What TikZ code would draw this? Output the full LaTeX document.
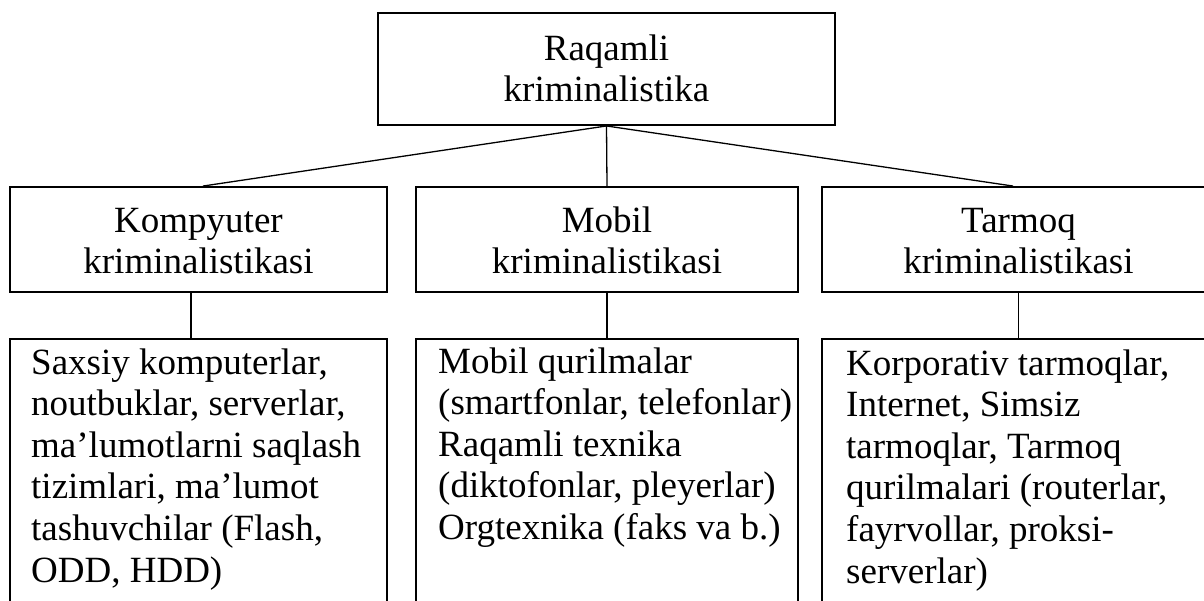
\documentclass[tikz,border=0pt]{standalone}
\usepackage{fontspec}
\setmainfont{Liberation Serif}
\begin{document}
\begin{tikzpicture}[x=1pt,y=-1pt,
  box/.style={draw=black, line width=1.9pt, fill=none, inner sep=0pt, rectangle},
  link/.style={draw=black, line width=1.3pt},
  lbl/.style={inner sep=0pt, font=\fontsize{37}{41.6}\selectfont}]
\useasboundingbox (0,0) rectangle (1204,600);
\clip (0,0) rectangle (1204,600);

% frames
\node[box, minimum width=457, minimum height=112] (top) at (606.5,69) {};
\node[box, minimum width=377, minimum height=105] (kb) at (198.5,239.5) {};
\node[box, minimum width=382, minimum height=105] (mb) at (607,239.5) {};
\node[box, minimum width=393, minimum height=105] (tb) at (1018.5,239.5) {};
\node[box, minimum width=377, minimum height=301] (kl) at (198.5,489.5) {};
\node[box, minimum width=382, minimum height=301] (ml) at (607,489.5) {};
\node[box, minimum width=393, minimum height=301] (tl) at (1018.5,489.5) {};

% titles
\node[lbl, anchor=base] (toptext) at (606.5,60)
  {\parbox[t]{440pt}{\centering Raqamli\\kriminalistika}};
\node[lbl, anchor=base] (kbtext) at (198.5,232)
  {\parbox[t]{370pt}{\centering Kompyuter\\kriminalistikasi}};
\node[lbl, anchor=base] (mbtext) at (607,232)
  {\parbox[t]{370pt}{\centering Mobil\\kriminalistikasi}};
\node[lbl, anchor=base] (tbtext) at (1018.5,232)
  {\parbox[t]{370pt}{\centering Tarmoq\\kriminalistikasi}};

% lists
\node[lbl, anchor=base west] (kltext) at (31,374)
  {\parbox[t]{360pt}{\raggedright Saxsiy komputerlar,\\noutbuklar, serverlar,\\ma’lumotlarni saqlash\\tizimlari, ma’lumot\\tashuvchilar (Flash,\\ODD, HDD)}};
\node[lbl, anchor=base west] (mltext) at (438,373)
  {\parbox[t]{370pt}{\raggedright Mobil qurilmalar\\(smartfonlar, telefonlar)\\Raqamli texnika\\(diktofonlar, pleyerlar)\\Orgtexnika (faks va b.)}};
\node[lbl, anchor=base west] (tltext) at (846,375)
  {\parbox[t]{360pt}{\raggedright Korporativ tarmoqlar,\\Internet, Simsiz\\tarmoqlar, Tarmoq\\qurilmalari (routerlar,\\fayrvollar, proksi-\\serverlar)}};

% connectors
\draw[link] (top.south) -- ([xshift=4.5pt]kb.north);
\draw[link] (top.south) -- (mb.north);
\draw[link] (top.south) -- ([xshift=-5.5pt]tb.north);
\draw[link] ([xshift=-7.5pt]kb.south) -- ([xshift=-7.5pt]kl.north);
\draw[link] (mb.south) -- (ml.north);
\draw[link] (tb.south) -- (tl.north);
\end{tikzpicture}
\end{document}
